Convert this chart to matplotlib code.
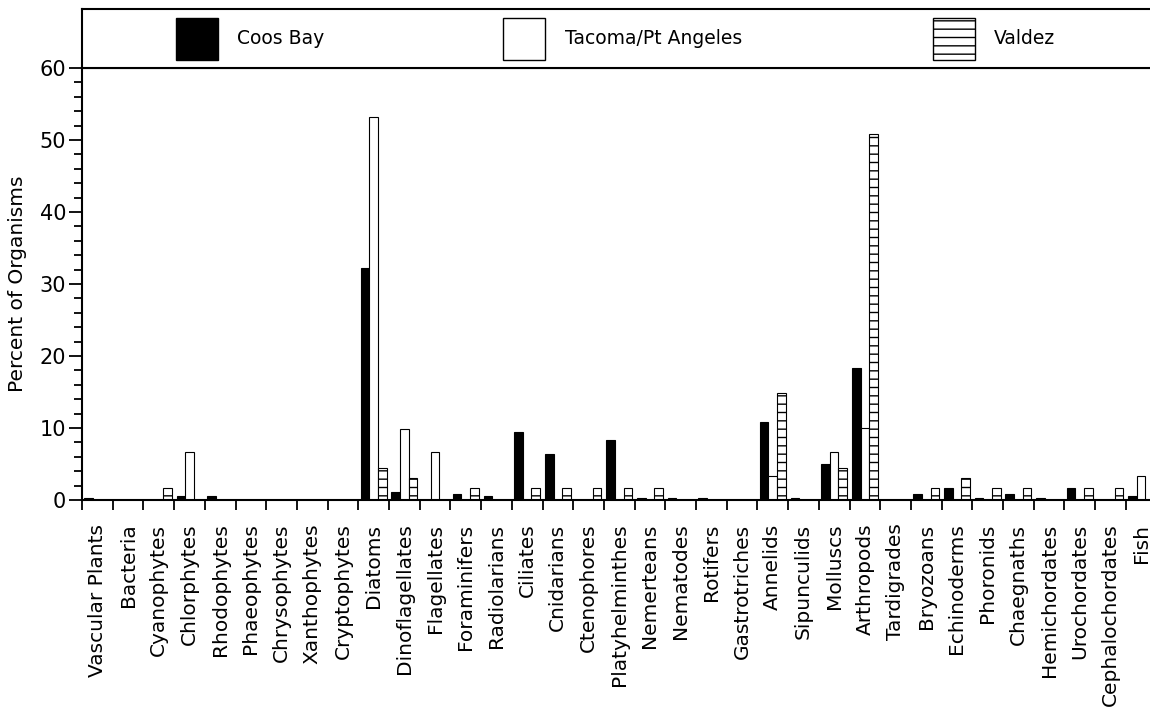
import matplotlib.pyplot as plt
import numpy as np
from matplotlib.patches import Rectangle
from matplotlib.ticker import MultipleLocator

# Categories along the x axis
groups = ['Vascular Plants', 'Bacteria', 'Cyanophytes', 'Chlorphytes', 'Rhodophytes',
          'Phaeophytes', 'Chrysophytes', 'Xanthophytes', 'Cryptophytes', 'Diatoms',
          'Dinoflagellates', 'Flagellates', 'Foraminifers', 'Radiolarians', 'Ciliates',
          'Cnidarians', 'Ctenophores', 'Platyhelminthes', 'Nemerteans', 'Nematodes',
          'Rotifers', 'Gastrotriches', 'Annelids', 'Sipunculids', 'Molluscs',
          'Arthropods', 'Tardigrades', 'Bryozoans', 'Echinoderms', 'Phoronids',
          'Chaegnaths', 'Hemichordates', 'Urochordates', 'Cephalochordates', 'Fish']

# Percent of organisms per site
coos_bay = [0.3, 0, 0, 0.6, 0.6, 0, 0, 0, 0, 32.2,
            1.1, 0, 0.9, 0.5, 9.4, 6.4, 0, 8.3, 0.3, 0.3,
            0.3, 0, 10.9, 0.3, 5.0, 18.4, 0, 0.9, 1.7, 0.3,
            0.9, 0.3, 1.7, 0, 0.6]
tacoma = [0, 0, 0, 6.6, 0, 0, 0, 0, 0, 53.2,
          9.9, 6.6, 0, 0, 0, 0, 0, 0, 0, 0,
          0, 0, 3.3, 0, 6.6, 10.0, 0, 0, 0, 0,
          0, 0, 0, 0, 3.3]
valdez = [0, 0, 1.7, 0, 0, 0, 0, 0, 0, 4.4,
          3.0, 0, 1.7, 0, 1.7, 1.7, 1.7, 1.7, 1.7, 0,
          0, 0, 14.9, 0, 4.4, 50.8, 0, 1.7, 3.0, 1.7,
          1.7, 0, 1.7, 1.7, 0]

series_names = ['Coos Bay', 'Tacoma/Pt Angeles', 'Valdez']

plt.rcParams['font.family'] = ['DejaVu Sans']
plt.rcParams['hatch.linewidth'] = 1.0

W, H = 1150, 715
fig = plt.figure(figsize=(W / 100, H / 100), dpi=100)

# Main plot area (runs a little past the right edge, as in the original)
left_px, top_px, bottom_px = 82, 68, 500
cat_px = 30.7
ax = fig.add_axes([left_px / W, (H - bottom_px) / H,
                   len(groups) * cat_px / W, (bottom_px - top_px) / H])

x = np.arange(len(groups)) + 0.5
bw = 0.28
ax.bar(x - bw, coos_bay, bw, color='black', edgecolor='black', linewidth=0.8)
ax.bar(x, tacoma, bw, color='white', edgecolor='black', linewidth=0.8)
ax.bar(x + bw, valdez, bw, color='white', edgecolor='black', linewidth=0.8, hatch='--')

ax.set_xlim(0, len(groups))
ax.set_ylim(0, 60)

# Ticks at group boundaries, names centred under each group
ax.set_xticks(np.arange(len(groups) + 1))
ax.set_xticklabels([])
ax.set_xticks(x, minor=True)
ax.set_xticklabels(groups, minor=True, rotation=90, fontsize=14.5)
ax.tick_params(axis='x', which='major', direction='out', length=7.5, width=1.3)
ax.tick_params(axis='x', which='minor', length=0, pad=17)

ax.yaxis.set_major_locator(MultipleLocator(10))
ax.yaxis.set_minor_locator(MultipleLocator(2))
ax.tick_params(axis='y', which='major', direction='out', length=9.5, width=1.3,
               labelsize=15, pad=2)
ax.tick_params(axis='y', which='minor', direction='out', length=5.5, width=1.3)

ax.set_ylabel('Percent of Organisms', fontsize=14.5)
ax.yaxis.set_label_coords((27 - left_px) / (len(groups) * cat_px), 0.5)

for s in ax.spines.values():
    s.set_linewidth(1.5)

# Legend box on top
lax = fig.add_axes([left_px / W, (H - top_px) / H, 1.02 - left_px / W, (top_px - 9) / H])
lax.set_xticks([])
lax.set_yticks([])
for s in lax.spines.values():
    s.set_linewidth(1.5)

styles = [dict(facecolor='black'), dict(facecolor='white'), dict(facecolor='white', hatch='--')]
patch_x = [176, 503, 933]
text_x = [237, 565, 994]
for name, st, px, tx in zip(series_names, styles, patch_x, text_x):
    fig.add_artist(Rectangle((px / W, (H - 60) / H), 42 / W, 42 / H,
                             transform=fig.transFigure, edgecolor='black',
                             linewidth=1.0, **st))
    fig.text(tx / W, (H - 38) / H, name, fontsize=13.5, va='center', ha='left')

fig.savefig('out.png', dpi=100)
